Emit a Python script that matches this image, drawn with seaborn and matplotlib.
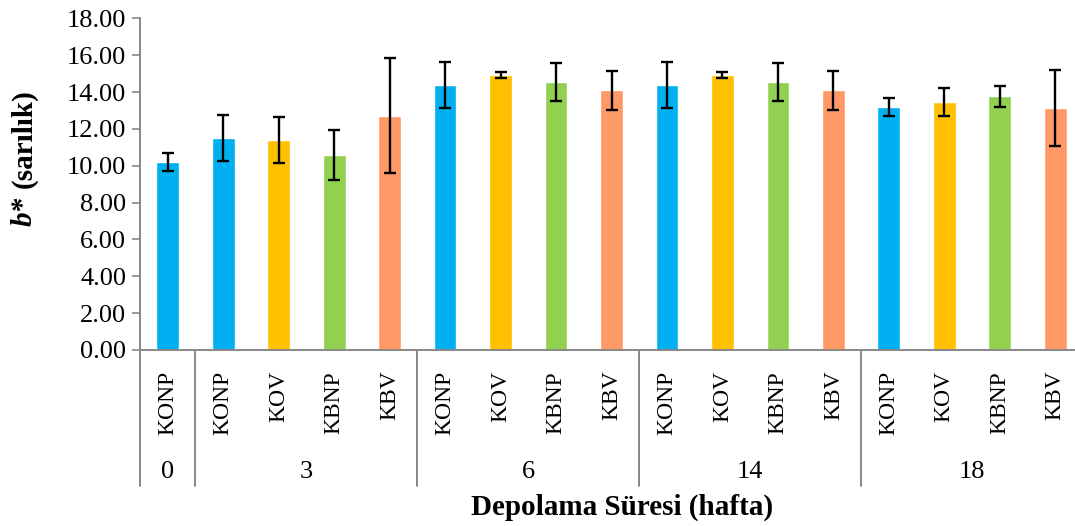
import matplotlib
matplotlib.use("Agg")
import matplotlib.pyplot as plt
import matplotlib.transforms as mtransforms
import seaborn as sns
import pandas as pd
import numpy as np

# ---- data ----
weeks = ["0", "3", "6", "14", "18"]
week_of_bar = ["0", "3", "3", "3", "3", "6", "6", "6", "6",
               "14", "14", "14", "14", "18", "18", "18", "18"]
treatments = ["KONP", "KONP", "KOV", "KBNP", "KBV", "KONP", "KOV", "KBNP", "KBV",
              "KONP", "KOV", "KBNP", "KBV", "KONP", "KOV", "KBNP", "KBV"]
b_values = [10.20, 11.50, 11.40, 10.57, 12.70, 14.37, 14.91, 14.53, 14.10,
            14.37, 14.91, 14.53, 14.10, 13.18, 13.45, 13.77, 13.12]
b_errors = [0.47, 1.25, 1.25, 1.35, 3.12, 1.26, 0.17, 1.03, 1.06,
            1.26, 0.17, 1.03, 1.06, 0.48, 0.77, 0.57, 2.05]
colors = {"KONP": "#00B0F0", "KOV": "#FFC000", "KBNP": "#92D050", "KBV": "#FF9966"}
yticks = [0, 2, 4, 6, 8, 10, 12, 14, 16, 18]

df = pd.DataFrame({
    "bar": [f"{w}-{t}" for w, t in zip(week_of_bar, treatments)],
    "treatment": treatments,
    "b": b_values,
    "err": b_errors,
})

sns.set_style("white")
plt.rcParams["font.family"] = ["Liberation Serif", "DejaVu Serif"]
plt.rcParams["text.color"] = "black"
plt.rcParams["xtick.labelcolor"] = "black"
plt.rcParams["ytick.labelcolor"] = "black"

W, H = 1075, 526
fig = plt.figure(figsize=(W / 100, H / 100), dpi=100)
ax_left, ax_right, ax_top, ax_bottom = 140, 1083, 18.3, 350
ax = fig.add_axes([ax_left / W, (H - ax_bottom) / H,
                   (ax_right - ax_left) / W, (ax_bottom - ax_top) / H])

sns.barplot(data=df, x="bar", y="b", hue="treatment", palette=colors,
            dodge=False, width=0.41, ax=ax, legend=False, errorbar=None,
            order=list(df["bar"]), saturation=1)
xs = np.arange(len(df))
ax.errorbar(xs, df["b"], yerr=df["err"], fmt="none", ecolor="black",
            elinewidth=1.7, capsize=4, capthick=1.7, zorder=5)

ax.set_xlim(-0.5, len(df) - 0.5)
ax.set_ylim(0, 18)
ax.set_yticks(yticks)
ax.set_yticklabels([f"{v:.2f}" for v in yticks], fontsize=19, color="black")
ax.tick_params(axis="y", direction="out", length=6, width=1.2, color="#888888",
               pad=4, left=True, labelcolor="black")
ax.set_xticks(xs)
ax.set_xticklabels(treatments, rotation=90, fontsize=17, color="black")
ax.tick_params(axis="x", length=0, pad=15, labelcolor="black")
ax.set_xlabel("")
ax.set_ylabel("")

for s in ["top", "right"]:
    ax.spines[s].set_visible(False)
for s in ["left", "bottom"]:
    ax.spines[s].set_color("#888888")
    ax.spines[s].set_linewidth(1.4)

# group separators and group labels
trans = mtransforms.blended_transform_factory(ax.transData, ax.transAxes)
ybot = -(486 - ax_bottom) / (ax_bottom - ax_top)
bounds = []
start = 0
for i in range(1, len(week_of_bar) + 1):
    if i == len(week_of_bar) or week_of_bar[i] != week_of_bar[i - 1]:
        bounds.append((start, i - 1))
        start = i
for (a, b) in bounds:
    ax.plot([a - 0.5, a - 0.5], [0, ybot], transform=trans, color="#888888",
            lw=1.4, clip_on=False)
    ax.text((a + b) / 2, -(472 - ax_bottom) / (ax_bottom - ax_top),
            week_of_bar[a], transform=trans, ha="center", va="center",
            fontsize=19, color="black")

fig.text(622 / W, 1 - 507 / H, "Depolama Süresi (hafta)", ha="center", va="center",
         fontsize=21, fontweight="bold", color="black")
fig.text(24 / W, 1 - 211 / H, "b*", rotation=90, ha="center", va="center",
         fontsize=21, fontweight="bold", fontstyle="italic", color="black")
fig.text(24 / W, 1 - 139 / H, "(sarılık)", rotation=90, ha="center", va="center",
         fontsize=21, fontweight="bold", color="black")

fig.savefig("out.png", dpi=100)
